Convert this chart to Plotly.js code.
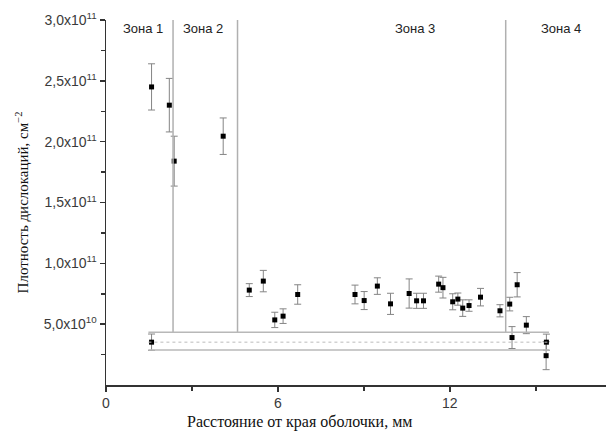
<!DOCTYPE html>
<html><head><meta charset="utf-8">
<script src="https://cdn.plot.ly/plotly-3.0.1.min.js"></script>
<style>html,body{margin:0;padding:0;background:#fff}#chart{width:606px;height:433px}</style>
</head><body><div id="chart"></div>
<script>
// Distance from the shell edge, mm
const distance = [1.59, 2.21, 2.38, 4.09, 1.59, 5.00, 5.49, 5.89, 6.18, 6.69, 8.69, 9.01, 9.47, 9.93, 10.58, 10.84, 11.08, 11.61, 11.76, 12.10, 12.28, 12.45, 12.67, 13.07, 13.75, 14.09, 14.35, 14.17, 14.67, 15.37, 15.36];
// Dislocation density, cm^-2
const density = [2.45e11, 2.30e11, 1.84e11, 2.045e11, 0.352e11, 0.78e11, 0.854e11, 0.535e11, 0.566e11, 0.744e11, 0.744e11, 0.694e11, 0.813e11, 0.667e11, 0.752e11, 0.692e11, 0.692e11, 0.829e11, 0.80e11, 0.684e11, 0.706e11, 0.632e11, 0.653e11, 0.722e11, 0.61e11, 0.665e11, 0.824e11, 0.39e11, 0.492e11, 0.352e11, 0.241e11];
const densityErr = [0.19e11, 0.22e11, 0.205e11, 0.15e11, 0.067e11, 0.053e11, 0.088e11, 0.063e11, 0.06e11, 0.08e11, 0.077e11, 0.074e11, 0.068e11, 0.087e11, 0.12e11, 0.062e11, 0.062e11, 0.066e11, 0.085e11, 0.066e11, 0.05e11, 0.068e11, 0.047e11, 0.072e11, 0.05e11, 0.056e11, 0.1e11, 0.09e11, 0.07e11, 0.066e11, 0.115e11];

// Zone boundaries (mm) and zone labels
const zoneBounds = [2.34, 4.59, 13.95];
const zoneLabels = ["Зона 1", "Зона 2", "Зона 3", "Зона 4"];
const zoneLabelX = [1.29, 3.37, 10.78, 15.88];

// Horizontal band (level and its spread)
const bandX = [1.48, 15.46];
const bandLevels = [0.434e11, 0.352e11, 0.288e11];

// Axis ticks and titles
const yTickVals = [0.5e11, 1.0e11, 1.5e11, 2.0e11, 2.5e11, 3.0e11];
const yTickText = ["5,0x10<sup>10</sup>", "1,0x10<sup>11</sup>", "1,5x10<sup>11</sup>", "2,0x10<sup>11</sup>", "2,5x10<sup>11</sup>", "3,0x10<sup>11</sup>"];
const yMinorVals = [0.25e11, 0.75e11, 1.25e11, 1.75e11, 2.25e11, 2.75e11];
const xTickVals = [0, 6, 12];
const xMinorVals = [3, 9, 15];
const xTitle = 'Расстояние от края оболочки, мм';
const yTitle = 'Плотность дислокаций, см<sup>−2</sup>';

const shapes = [];
zoneBounds.forEach(x => shapes.push({type:'line', xref:'x', yref:'y', x0:x, x1:x, y0:bandLevels[0], y1:3.04e11, line:{color:'#b0b0b0', width:1.5}}));
bandLevels.forEach((v,i) => shapes.push({type:'line', xref:'x', yref:'y', x0:bandX[0], x1:bandX[1], y0:v, y1:v, line:{color:i===1?'#bbbbbb':'#b8b8b8', width:i===1?1:1.5, dash:i===1?'dot':'solid'}}));

const annotations = zoneLabels.map((t,i) => ({text:t, x:zoneLabelX[i], y:2.93e11, xref:'x', yref:'y', showarrow:false, font:{family:'Liberation Sans, Arial', size:13, color:'#222'}}));
annotations.push({text:xTitle, xref:'paper', yref:'paper', x:0.386, y:-0.101, xanchor:'center', yanchor:'middle', showarrow:false, font:{family:'Liberation Serif, Times New Roman', size:16, color:'#111'}});

const trace = {
  x: distance, y: density, type:'scatter', mode:'markers',
  marker:{symbol:'square', size:5, color:'#000'},
  error_y:{type:'data', array:densityErr, visible:true, color:'#858585', thickness:1, width:3.5},
  showlegend:false, hoverinfo:'skip'
};

const layout = {
  width:606, height:433,
  margin:{l:106, r:0, t:20, b:48},
  paper_bgcolor:'#fff', plot_bgcolor:'#fff',
  showlegend:false,
  xaxis:{range:[0,17.45], showgrid:false, zeroline:false, showline:true, linecolor:'#333', linewidth:1.5,
    tickmode:'array', tickvals:xTickVals, ticktext:xTickVals.map(String), ticks:'outside', ticklen:5, tickcolor:'#333', tickwidth:1.5,
    minor:{tickmode:'array', tickvals:xMinorVals, ticks:'outside', ticklen:4, tickcolor:'#333', tickwidth:1.5},
    tickfont:{family:'Liberation Sans, Arial', size:14, color:'#3a3a3a'}},
  yaxis:{range:[0,3.0e11], showgrid:false, zeroline:false, showline:true, linecolor:'#333', linewidth:1.5,
    tickmode:'array', tickvals:yTickVals, ticktext:yTickText, ticks:'outside', ticklen:5, tickcolor:'#333', tickwidth:1.5,
    minor:{tickmode:'array', tickvals:yMinorVals, ticks:'outside', ticklen:4, tickcolor:'#333', tickwidth:1.5},
    tickfont:{family:'Liberation Sans, Arial', size:14, color:'#3a3a3a'},
    title:{text:yTitle, standoff:11, font:{family:'Liberation Serif, Times New Roman', size:15, color:'#111'}}},
  shapes:shapes, annotations:annotations
};
Plotly.newPlot('chart', [trace], layout, {staticPlot:true, displayModeBar:false});
</script></body></html>
